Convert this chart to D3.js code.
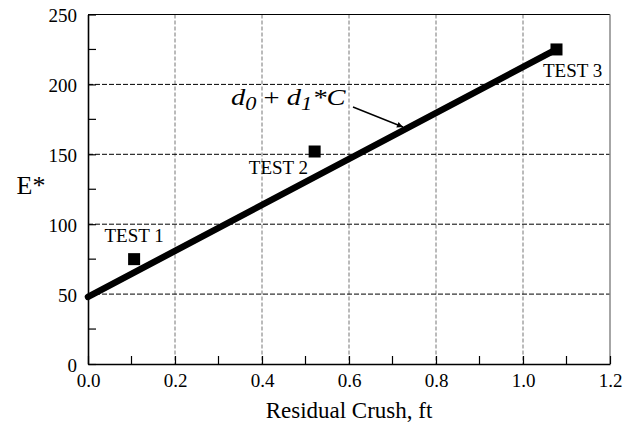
<!DOCTYPE html>
<html lang="en">
<head>
<meta charset="UTF-8">
<title>E* vs Residual Crush</title>
<script src="https://d3js.org/d3.v7.min.js"></script>
<style>
  body { margin: 0; background: #fff; }
  svg { font-family: "Liberation Serif", "Times New Roman", serif; }
</style>
</head>
<body>
<svg width="631" height="423"></svg>
<script>
    // data
    const testNames = ["TEST 1", "TEST 2", "TEST 3"];
    const crush = [0.106, 0.521, 1.077];
    const energy = [75, 152, 225];
    const fitX = [0, 1.07];
    const fitY = [48, 224];
    const xTicks = [0, 0.2, 0.4, 0.6, 0.8, 1.0, 1.2];
    const yTicks = [0, 50, 100, 150, 200, 250];
    const xMinor = [0.1, 0.3, 0.5, 0.7, 0.9, 1.1];
    const yMinor = [25, 75, 125, 175, 225];

    const svg = d3.select("svg"),
        margin = {top: 14.5, right: 21, bottom: 59, left: 88},
        width = +svg.attr("width") - margin.left - margin.right,
        height = +svg.attr("height") - margin.top - margin.bottom,
        g = svg.append("g").attr("transform", `translate(${margin.left},${margin.top})`);

    const x = d3.scaleLinear().domain([0, 1.2]).range([0, width]);
    const y = d3.scaleLinear().domain([0, 250]).range([height, 0]);

    // grid
    g.selectAll(".vgrid").data(xTicks.slice(1, -1)).join("line")
        .attr("x1", d => x(d)).attr("x2", d => x(d))
        .attr("y1", 0).attr("y2", height)
        .attr("stroke", "#777").attr("stroke-width", 1)
        .attr("stroke-dasharray", "4,2");
    g.selectAll(".hgrid").data(yTicks.slice(1, -1)).join("line")
        .attr("x1", 0).attr("x2", width)
        .attr("y1", d => y(d)).attr("y2", d => y(d))
        .attr("stroke", "#000").attr("stroke-width", 1)
        .attr("stroke-dasharray", "5,2");

    // frame: top black, right gray
    g.append("line").attr("x1", 0).attr("x2", width).attr("y1", 0).attr("y2", 0)
        .attr("stroke", "#000").attr("stroke-width", 1.2);
    g.append("line").attr("x1", width).attr("x2", width).attr("y1", 0).attr("y2", height)
        .attr("stroke", "#888").attr("stroke-width", 1.5);

    // axes
    const xAxis = g.append("g")
        .attr("transform", `translate(0,${height})`)
        .call(d3.axisBottom(x).tickValues(xTicks).tickFormat(d3.format(".1f")).tickSizeInner(-8).tickSizeOuter(0).tickPadding(10));
    const yAxis = g.append("g")
        .call(d3.axisLeft(y).tickValues(yTicks).tickSizeInner(-8).tickSizeOuter(0).tickPadding(11));
    [xAxis, yAxis].forEach(a => {
        a.select(".domain").attr("stroke-width", 1.6);
        a.selectAll("text").attr("font-size", 19).attr("font-family", "Liberation Serif").attr("fill", "#000");
        a.selectAll(".tick line").attr("stroke-width", 1.2);
    });
    yAxis.selectAll("text").attr("dy", "0.38em");

    // minor ticks
    g.selectAll(".xminor").data(xMinor).join("line")
        .attr("x1", d => x(d)).attr("x2", d => x(d))
        .attr("y1", height).attr("y2", height - 8)
        .attr("stroke", "#000").attr("stroke-width", 1.2);
    g.selectAll(".yminor").data(yMinor).join("line")
        .attr("x1", 0).attr("x2", 8)
        .attr("y1", d => y(d)).attr("y2", d => y(d))
        .attr("stroke", "#000").attr("stroke-width", 1.2);

    // fit line
    const line = d3.line().x(d => x(d[0])).y(d => y(d[1]));
    g.append("path")
        .datum(d3.zip(fitX, fitY))
        .attr("d", line)
        .attr("fill", "none").attr("stroke", "#000")
        .attr("stroke-width", 6.5).attr("stroke-linecap", "round");

    // test points
    const pts = d3.zip(crush, energy, testNames);
    g.selectAll(".pt").data(pts).join("rect")
        .attr("x", d => x(d[0]) - 6).attr("y", d => y(d[1]) - 6)
        .attr("width", 12).attr("height", 12).attr("fill", "#000");

    // point labels
    const labelPos = [
        {dx: 0, dy: -17, anchor: "middle"},
        {dx: -6.5, dy: 22, anchor: "end"},
        {dx: -13.5, dy: 28, anchor: "start"}
    ];
    g.selectAll(".lbl").data(pts).join("text")
        .attr("x", (d, i) => x(d[0]) + labelPos[i].dx)
        .attr("y", (d, i) => y(d[1]) + labelPos[i].dy)
        .attr("text-anchor", (d, i) => labelPos[i].anchor)
        .attr("font-size", 19)
        .text(d => d[2]);

    // equation annotation (original text looks stretched sideways)
    const eq = svg.append("text")
        .attr("transform", "translate(231,105) scale(1.24,1)")
        .attr("font-size", 23).attr("font-style", "italic");
    eq.append("tspan").text("d");
    eq.append("tspan").attr("font-size", 18).attr("dy", 5).text("0");
    eq.append("tspan").attr("dy", -5).attr("font-style", "normal").text(" + ");
    eq.append("tspan").text("d");
    eq.append("tspan").attr("font-size", 18).attr("dy", 5).text("1");
    eq.append("tspan").attr("dy", -5).text("*C");

    svg.append("defs").append("marker")
        .attr("id", "arrow").attr("viewBox", "0 0 10 10")
        .attr("refX", 10).attr("refY", 5)
        .attr("markerWidth", 8).attr("markerHeight", 6)
        .attr("markerUnits", "userSpaceOnUse")
        .attr("orient", "auto")
        .append("path").attr("d", "M0,0L10,5L0,10Z").attr("fill", "#000");
    svg.append("line")
        .attr("x1", 353).attr("y1", 107).attr("x2", 403).attr("y2", 127)
        .attr("stroke", "#000").attr("stroke-width", 1.5)
        .attr("marker-end", "url(#arrow)");

    // axis titles
    svg.append("text")
        .attr("x", margin.left + width / 2).attr("y", 418)
        .attr("text-anchor", "middle").attr("font-size", 23)
        .text("Residual Crush, ft");
    svg.append("text")
        .attr("x", 31).attr("y", 194)
        .attr("text-anchor", "middle").attr("font-size", 26)
        .text("E*");
</script>
</body>
</html>
